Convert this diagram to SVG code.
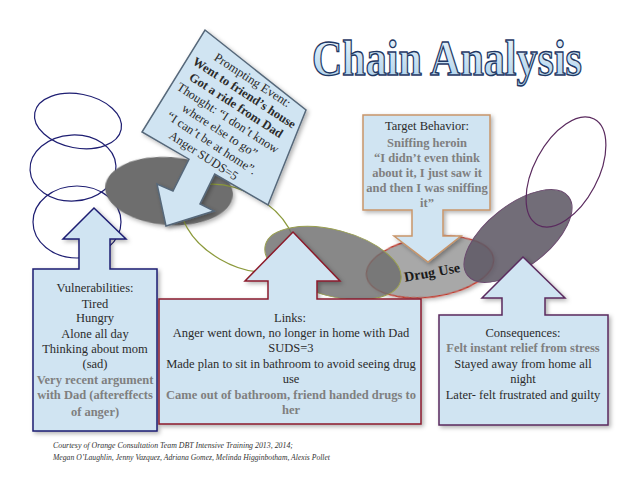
<svg xmlns="http://www.w3.org/2000/svg" width="638" height="493" viewBox="0 0 638 493">
<defs>
  <linearGradient id="titleGrad" x1="0" y1="0" x2="0" y2="1">
    <stop offset="0" stop-color="#eef7fd"/>
    <stop offset="1" stop-color="#a9cfea"/>
  </linearGradient>
  <filter id="shadow" x="-20%" y="-20%" width="140%" height="140%">
    <feDropShadow dx="2" dy="2" stdDeviation="2" flood-color="#000" flood-opacity="0.3"/>
  </filter>
</defs>
<style>
  text { font-family: "Liberation Serif", "DejaVu Serif", "Times New Roman", serif; }
  .t { font-size: 12.5px; fill: #2b2b2b; text-anchor: middle; }
  .b { font-weight: bold; fill: #7f7f7f; }
  .box { fill: #d0e4f2; stroke-width: 1.5; filter: url(#shadow); }
  .ring { fill: none; stroke-width: 1.2; }
  .disc { fill: #6e6e6e; filter: url(#shadow); }
  .foot { font-size: 8px; font-style: italic; fill: #333; }
</style>
<rect width="638" height="493" fill="#ffffff"/>

<g id="title">
  <text x="312" y="75" font-size="50" font-weight="bold" fill="url(#titleGrad)" stroke="#1f3864" stroke-width="1.4" textLength="270" lengthAdjust="spacingAndGlyphs">Chain Analysis</text>
</g>

<g id="connectors">
  <ellipse class="ring" stroke="#1e1e72" cx="78" cy="121" rx="44" ry="27" transform="rotate(11 78 121)"/>
  <ellipse class="ring" stroke="#1e1e72" cx="73" cy="168" rx="43" ry="33" transform="rotate(-3 73 168)"/>
  <ellipse class="ring" stroke="#1e1e72" cx="77" cy="222" rx="44" ry="36"/>
  <ellipse class="disc" cx="169" cy="191" rx="64" ry="34" transform="rotate(4 169 191)"/>
  <ellipse class="ring" stroke="#8c9a3c" stroke-width="1" cx="238" cy="228" rx="62" ry="36" transform="rotate(30 238 228)"/>
  <ellipse fill="#a8a8a8" stroke="#c0392b" stroke-width="1.4" cx="430" cy="267" rx="64" ry="30" transform="rotate(-8 430 267)" filter="url(#shadow)"/>
  <ellipse fill="#6e6e6e" fill-opacity="0.82" stroke="#9aa050" stroke-width="1" cx="333" cy="263" rx="70" ry="33" transform="rotate(15 333 263)"/>
  <ellipse fill="#5f5965" fill-opacity="0.88" stroke="#6a4a6e" stroke-width="1" cx="518" cy="236" rx="64" ry="31" transform="rotate(-38 518 236)"/>
  <ellipse class="ring" stroke="#5a2a5e" cx="566" cy="172" rx="60" ry="32" transform="rotate(-62 566 172)"/>
  <text x="432" y="277" transform="rotate(-10 432 272)" font-size="14" font-weight="bold" fill="#1a1a1a" text-anchor="middle">Drug Use</text>
</g>

<g id="prompting">
  <polygon class="box" stroke="#56687a" stroke-width="1.3" points="205,30 306,110 268,205 214.7,174.1 200,204 214,211 166,226 157,184 173,191 189,159.2 142,132"/>
  <g transform="rotate(33 228 118)">
    <text class="t" x="228" y="77">Prompting Event:</text>
    <text class="t" x="228" y="92" font-weight="bold" font-size="12" fill="#3a3a3a">Went to friend’s house</text>
    <text class="t" x="228" y="107" font-weight="bold" font-size="12" fill="#3a3a3a">Got a ride from Dad</text>
    <text class="t" x="228" y="122">Thought: “I don’t know</text>
    <text class="t" x="228" y="137">where else to go”</text>
    <text class="t" x="228" y="152">“I can’t be at home”.</text>
    <text class="t" x="228" y="167">Anger SUDS=5</text>
  </g>
</g>

<g id="vulnerabilities">
  <path class="box" stroke="#1e1e72" d="M33,269 H79 V239 H63 L94,208 L126,239 H110 V269 H157 V431 H33 Z"/>
  <text class="t" x="95" y="292">Vulnerabilities:</text>
  <text class="t" x="95" y="307.5">Tired</text>
  <text class="t" x="95" y="322">Hungry</text>
  <text class="t" x="95" y="337.5">Alone all day</text>
  <text class="t" x="95" y="352.5">Thinking about mom</text>
  <text class="t" x="95" y="367.5">(sad)</text>
  <text class="t b" x="95" y="384" font-size="12">Very recent argument</text>
  <text class="t b" x="95" y="399" font-size="12">with Dad (aftereffects</text>
  <text class="t b" x="95" y="415.5" font-size="12">of anger)</text>
</g>

<g id="links">
  <path class="box" stroke="#8b1a2b" d="M159,299 H268 V281 H245 L293,232 L340,281 H317 V299 H421 V424 H159 Z"/>
  <text class="t" x="290" y="322">Links:</text>
  <text class="t" x="291" y="337">Anger went down, no longer in home with Dad</text>
  <text class="t" x="291" y="352">SUDS=3</text>
  <text class="t" x="291" y="367.5">Made plan to sit in bathroom to avoid seeing drug</text>
  <text class="t" x="291" y="383">use</text>
  <text class="t b" x="291" y="399" font-size="12">Came out of bathroom, friend handed drugs to</text>
  <text class="t b" x="291" y="414" font-size="12">her</text>
</g>

<g id="target">
  <path class="box" stroke="#c8956a" d="M363,115 H490 V210 H443 V236 H461 L428,262 L394,236 H412 V210 H363 Z"/>
  <text class="t" x="427" y="130">Target Behavior:</text>
  <text class="t b" x="427" y="147" font-size="12">Sniffing heroin</text>
  <text class="t b" x="427" y="162" font-size="12">“I didn’t even think</text>
  <text class="t b" x="427" y="177" font-size="12">about it, I just saw it</text>
  <text class="t b" x="427" y="192" font-size="12">and then I was sniffing</text>
  <text class="t b" x="427" y="207" font-size="12">it”</text>
</g>

<g id="consequences">
  <path class="box" stroke="#5a2a5e" d="M439,315 H502 V298 H482 L523,257 L565,298 H545 V315 H608 V425 H439 Z"/>
  <text class="t" x="523" y="337">Consequences:</text>
  <text class="t b" x="523" y="352" font-size="12">Felt instant relief  from stress</text>
  <text class="t" x="523" y="367.5">Stayed away from home all</text>
  <text class="t" x="523" y="383">night</text>
  <text class="t" x="523" y="399">Later- felt frustrated and guilty</text>
</g>

<g id="footer">
  <text class="foot" x="53" y="447.5" textLength="240" lengthAdjust="spacingAndGlyphs">Courtesy of Orange Consultation Team DBT Intensive Training 2013, 2014;</text>
  <text class="foot" x="53" y="460" textLength="277" lengthAdjust="spacingAndGlyphs">Megan O’Laughlin, Jenny Vazquez, Adriana Gomez, Melinda Higginbotham, Alexis Pollet</text>
</g>
</svg>
